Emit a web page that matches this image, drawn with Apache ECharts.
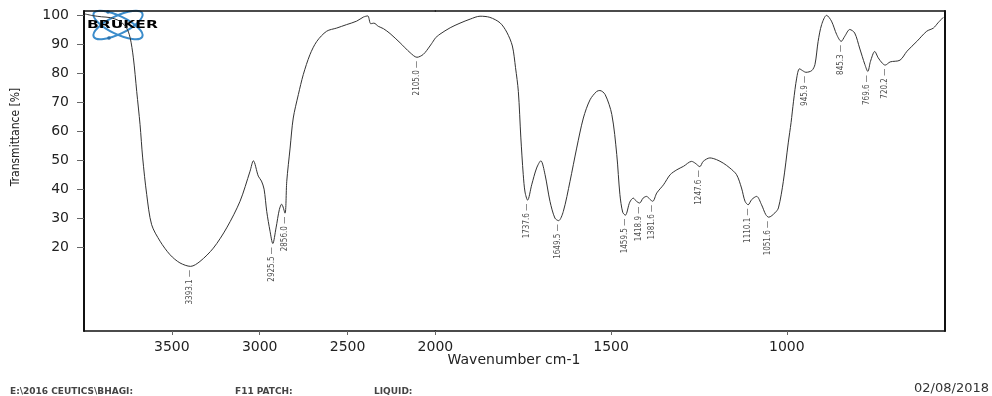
<!DOCTYPE html>
<html>
<head>
<meta charset="utf-8">
<script src="https://cdn.jsdelivr.net/npm/echarts@6.0.0/dist/echarts.min.js"></script>
<style>
  html, body { margin: 0; padding: 0; background: #fff; }
  #chart { width: 992px; height: 396px; }
</style>
</head>
<body>
<div id="chart"></div>
<script>
// IR spectrum, wavenumber (cm-1) vs transmittance (%)
const wavenumbers = [
  3996, 3950, 3900, 3850, 3800, 3760, 3738, 3719, 3700, 3681, 3666, 3643, 3615, 3567, 3510, 3454,
  3393.1, 3340, 3264, 3188, 3112, 3055, 3036, 3008, 2990, 2975, 2960, 2941, 2925.5, 2907, 2888,
  2875, 2856.0, 2846, 2827, 2809, 2780, 2752, 2714, 2675, 2619, 2562, 2505, 2448, 2410, 2385,
  2368, 2350, 2325, 2296, 2258, 2201, 2144, 2105.0, 2069, 2031, 2000,
  1987, 1958, 1930, 1901, 1873, 1845, 1816, 1797, 1781, 1772, 1764, 1757, 1750, 1745, 1737.6,
  1726, 1712, 1700, 1688, 1674, 1660, 1649.5, 1636, 1617, 1598, 1579, 1560, 1541, 1532, 1517,
  1498, 1484, 1475, 1467, 1459.5, 1447, 1437, 1428, 1418.9, 1409, 1399, 1389, 1381.6, 1370,
  1351, 1332, 1313, 1294, 1271, 1261, 1247.6, 1238, 1219, 1200, 1181, 1162, 1143, 1129, 1119,
  1110.1, 1100, 1086, 1072, 1060, 1051.6, 1034, 1024, 1010, 996, 988, 981, 972, 964, 953, 945.9,
  929, 920, 911, 901, 887, 873, 858, 845.3, 835, 821, 807, 793, 778, 769.6, 762, 750, 740, 728,
  720.2, 706, 678, 658, 630, 602, 583, 570, 555
];
const transmittance = [
  100.6, 100.0, 99.6, 99.3, 98.2, 96.0, 92.5, 85.4, 73.8, 62.3, 50.8, 38.1, 27.7, 22.0, 17.3, 14.5,
  13.3, 15.0, 19.6, 26.6, 35.8, 46.2, 49.8, 44.5, 42.8, 40.0, 32.3, 25.4, 21.2, 26.6, 33.0,
  34.8, 31.7, 42.7, 54.2, 64.6, 72.7, 79.6, 86.5, 91.1, 94.6, 95.7, 96.9, 98.1, 99.5, 99.9,
  97.2, 97.4, 96.3, 95.5, 93.8, 90.6, 87.2, 85.6, 86.6, 89.5, 92.3,
  93.6, 95.8, 97.4, 98.8, 99.8, 99.4, 97.5, 94.3, 89.5, 82.0, 73.8, 58.0, 45.0, 39.0, 36.2,
  41.5, 47.3, 49.8, 45.0, 35.8, 30.0, 29.1, 32.3, 42.7, 54.2, 64.6, 70.9, 73.8, 74.1, 72.7,
  65.8, 52.0, 38.1, 32.0, 31.0, 35.5, 36.9, 35.8, 35.2, 36.9, 37.5, 36.4, 35.8, 38.7,
  41.5, 45.0, 46.7, 47.9, 49.6, 49.0, 47.8, 49.6, 50.8, 50.2, 49.0, 47.3, 45.0, 40.4, 35.8,
  34.6, 36.4, 37.5, 34.6, 31.2, 30.3, 31.8, 33.5, 42.7, 56.0, 63.0, 70.4, 78.4, 81.6, 80.8, 80.4,
  81.0, 83.1, 91.1, 96.9, 100.1, 98.1, 93.4, 91.1, 92.9, 95.2, 94.0, 88.8, 83.1, 80.7, 84.2, 87.6, 85.4, 83.5,
  82.9, 84.0, 84.6, 87.7, 91.1, 94.6, 95.7, 97.5, 99.4
];
// labelled band positions
const peakWavenumbers = [3393.1, 2925.5, 2856.0, 2105.0, 1737.6, 1649.5, 1459.5, 1418.9, 1381.6,
  1247.6, 1110.1, 1051.6, 945.9, 845.3, 769.6, 720.2];
const peakTransmittance = [13.3, 21.2, 31.7, 85.6, 36.2, 29.1, 31.0, 35.2, 35.8,
  47.8, 34.6, 30.3, 80.4, 91.1, 80.7, 82.9];
// the x axis is compressed above 2000 cm-1
const xTicksHigh = [3500, 3000, 2500, 2000];
const xTicksLow = [1500, 1000];
const yTicks = [20, 30, 40, 50, 60, 70, 80, 90, 100];

const BREAK = 2000;
const spectrum = wavenumbers.map((w, i) => [w, transmittance[i]]);
const peaks = peakWavenumbers.map((w, i) => [w, peakTransmittance[i]]);

const tickFont = '"DejaVu Sans", sans-serif';
const narrowFont = '"Liberation Sans Narrow", "DejaVu Sans Condensed", sans-serif';
const frame = { color: '#111', width: 1.5 };
const plain = v => String(v);

function bottomAxis(grid, min, max, ticks) {
  return {
    gridIndex: grid, type: 'value', min: min, max: max, inverse: true, position: 'bottom',
    axisLine: { show: true, onZero: false, lineStyle: frame },
    axisTick: { show: true, length: 4, customValues: ticks, lineStyle: { color: '#666' } },
    axisLabel: { customValues: ticks, formatter: plain, margin: 9, color: '#222', fontSize: 14, fontFamily: tickFont },
    splitLine: { show: false }
  };
}
function topAxis(grid, min, max) {
  return {
    gridIndex: grid, type: 'value', min: min, max: max, inverse: true, position: 'top',
    axisLine: { show: true, onZero: false, lineStyle: frame },
    axisTick: { show: false }, axisLabel: { show: false }, splitLine: { show: false }
  };
}
const peakLabel = {
  show: true,
  position: [0, 4],
  rotate: 90,
  align: 'right',
  verticalAlign: 'middle',
  fontSize: 8,
  fontFamily: narrowFont,
  color: '#222',
  formatter: p => p.value[0].toFixed(1) + ' \u2014'
};

const chart = echarts.init(document.getElementById('chart'));
chart.setOption({
  backgroundColor: '#fff',
  animation: false,
  grid: [
    { left: 84, width: 351.4, top: 11, height: 320, outerBoundsMode: 'none' },
    { left: 435.4, width: 509.6, top: 11, height: 320, outerBoundsMode: 'none' }
  ],
  xAxis: [
    bottomAxis(0, BREAK, 4000, xTicksHigh),
    bottomAxis(1, 550, BREAK, xTicksLow),
    topAxis(0, BREAK, 4000),
    topAxis(1, 550, BREAK)
  ],
  yAxis: [
    {
      gridIndex: 0, type: 'value', min: -9.05, max: 101.6, position: 'left',
      axisLine: { show: true, onZero: false, lineStyle: { color: '#111', width: 2 } },
      axisTick: { show: true, length: 7, customValues: yTicks, lineStyle: { color: '#666' } },
      axisLabel: { customValues: yTicks, formatter: plain, margin: 15, color: '#222', fontSize: 14, fontFamily: tickFont },
      splitLine: { show: false }
    },
    {
      gridIndex: 1, type: 'value', min: -9.05, max: 101.6, position: 'right',
      axisLine: { show: true, onZero: false, lineStyle: { color: '#111', width: 2 } },
      axisTick: { show: false }, axisLabel: { show: false }, splitLine: { show: false }
    }
  ],
  series: [
    {
      type: 'line', xAxisIndex: 0, yAxisIndex: 0, showSymbol: false, smooth: 0.3,
      lineStyle: { color: '#333', width: 1 },
      data: spectrum.filter(d => d[0] >= BREAK)
    },
    {
      type: 'line', xAxisIndex: 1, yAxisIndex: 1, showSymbol: false, smooth: 0.3,
      lineStyle: { color: '#333', width: 1 },
      data: spectrum.filter(d => d[0] <= BREAK)
    },
    {
      type: 'scatter', xAxisIndex: 0, yAxisIndex: 0, symbolSize: 1,
      itemStyle: { color: 'rgba(0,0,0,0)' }, label: peakLabel,
      data: peaks.filter(d => d[0] >= BREAK)
    },
    {
      type: 'scatter', xAxisIndex: 1, yAxisIndex: 1, symbolSize: 1,
      itemStyle: { color: 'rgba(0,0,0,0)' }, label: peakLabel,
      data: peaks.filter(d => d[0] < BREAK)
    }
  ],
  graphic: [
    {
      type: 'text', x: 16, y: 137, rotation: Math.PI / 2,
      style: { text: 'Transmittance [%]', font: '12px ' + narrowFont, fill: '#222', align: 'center', verticalAlign: 'middle' }
    },
    {
      type: 'text', x: 514, y: 360,
      style: { text: 'Wavenumber cm-1', font: '14px ' + tickFont, fill: '#222', align: 'center', verticalAlign: 'middle' }
    },
    {
      type: 'text', x: 10, y: 392,
      style: { text: 'E:\\2016 CEUTICS\\BHAGI:', font: 'bold 9px ' + tickFont, fill: '#444', verticalAlign: 'middle' }
    },
    {
      type: 'text', x: 235, y: 392,
      style: { text: 'F11 PATCH:', font: 'bold 9px ' + tickFont, fill: '#444', verticalAlign: 'middle' }
    },
    {
      type: 'text', x: 374, y: 392,
      style: { text: 'LIQUID:', font: 'bold 9px ' + tickFont, fill: '#444', verticalAlign: 'middle' }
    },
    {
      type: 'text', x: 989, y: 389,
      style: { text: '02/08/2018', font: '13px ' + tickFont, fill: '#333', align: 'right', verticalAlign: 'middle' }
    },
    // Bruker logo
    {
      type: 'group', z: 100,
      children: [
        { type: 'ellipse', x: 118, y: 25, rotation: 0.45, shape: { cx: 0, cy: 0, rx: 27, ry: 9 },
          style: { fill: null, stroke: '#3b8ccb', lineWidth: 2 } },
        { type: 'ellipse', x: 118, y: 25, rotation: -0.45, shape: { cx: 0, cy: 0, rx: 27, ry: 9 },
          style: { fill: null, stroke: '#3b8ccb', lineWidth: 2 } },
        { type: 'circle', shape: { cx: 108, cy: 12, r: 1.8 }, style: { fill: '#2a6fa8' } },
        { type: 'circle', shape: { cx: 109, cy: 38, r: 1.8 }, style: { fill: '#2a6fa8' } },
        { type: 'text', x: 87, y: 25, scaleX: 1.55,
          style: { text: 'BRUKER', font: 'bold 10px ' + tickFont, fill: '#000', verticalAlign: 'middle' } }
      ]
    }
  ]
});
</script>
</body>
</html>
